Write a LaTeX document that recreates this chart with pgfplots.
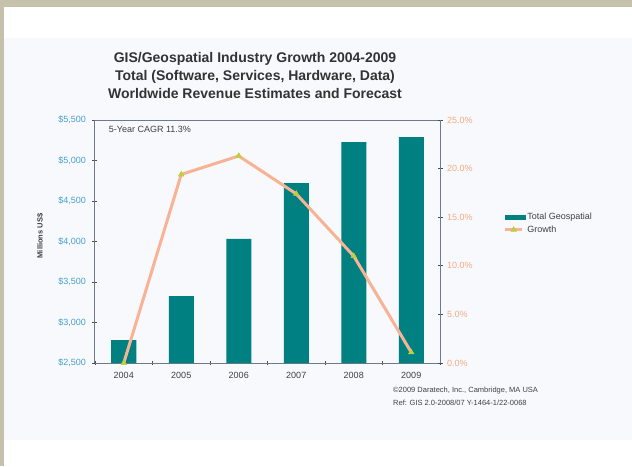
\documentclass[border=0pt]{standalone}
\usepackage{pgfplots}
\pgfplotsset{compat=1.18}
\usepackage{fontspec}
\setmainfont{Liberation Sans}
\definecolor{beige}{RGB}{197,193,170}
\definecolor{panel}{RGB}{248,249,253}
\definecolor{barteal}{RGB}{0,128,128}
\definecolor{salmon}{RGB}{248,178,148}
\definecolor{markyel}{RGB}{190,206,60}
\definecolor{ticklblue}{RGB}{70,160,210}
\definecolor{tickorange}{RGB}{245,170,130}
\definecolor{axgray}{RGB}{110,122,138}
\begin{document}
\begin{tikzpicture}
\useasboundingbox (0,0) rectangle (632pt,-466pt);
\fill[beige] (0,0) rectangle (632pt,-466pt);
\fill[white] (4pt,-7pt) rectangle (632pt,-466pt);
\fill[panel] (4pt,-38pt) rectangle (632pt,-440pt);
\node[align=center,font=\bfseries\fontsize{14}{18}\selectfont,text=black!80] at (255pt,-75pt)
 {GIS/Geospatial Industry Growth 2004-2009\\Total (Software, Services, Hardware, Data)\\Worldwide Revenue Estimates and Forecast};
\node[rotate=90,font=\bfseries\fontsize{7.5}{9}\selectfont,text=black!75] at (40pt,-236pt) {Millions US\$};
\node[anchor=north west,align=left,font=\fontsize{7.5}{13}\selectfont,text=black!75,inner sep=0pt] at (393pt,-387pt)
 {\textcopyright2009 Daratech, Inc., Cambridge, MA USA\\Ref: GIS 2.0-2008/07 Y-1464-1/22-0068};
\begin{axis}[
  at={(95pt,-363pt)}, anchor=south west, scale only axis,
  width=345pt, height=243pt,
  xmin=-0.5, xmax=5.5, ymin=2500, ymax=5500,
  xtick={0,...,5}, xticklabels={2004,2005,2006,2007,2008,2009},
  minor xtick={-0.5,0.5,...,5.5},
  major x tick style={draw=none},
  minor tick length=4pt,
  ytick={2500,3000,...,5500},
  yticklabel={\$\pgfmathprintnumber{\tick}},
  /pgf/number format/1000 sep={,},
  /pgf/number format/assume math mode=true,
  yticklabel style={font=\fontsize{9}{10}\selectfont,text=ticklblue,xshift=-3pt},
  xticklabel style={font=\fontsize{9}{10}\selectfont,text=black!75,yshift=-3pt},
  axis line style={axgray,line width=1pt},
  tick style={black!70,line width=0.8pt},
  tick align=center, major tick length=5pt,
  axis y line*=left, axis x line*=bottom,
  clip=false,
]
\addplot[ybar, bar width=25pt, fill=barteal, draw=none] coordinates {
 (0,2784) (1,3327) (2,4031) (3,4722) (4,5228) (5,5290)};
\node[anchor=west,font=\fontsize{9}{10}\selectfont,text=black!75] at (rel axis cs:0.03,0.963) {5-Year CAGR 11.3\%};
\draw[axgray,line width=1pt] (rel axis cs:0,1) -- (rel axis cs:1,1);
\end{axis}
\begin{axis}[
  at={(95pt,-363pt)}, anchor=south west, scale only axis,
  width=345pt, height=243pt,
  xmin=-0.5, xmax=5.5, ymin=0, ymax=25,
  axis x line=none, axis y line*=right,
  ytick={0,5,...,25},
  yticklabel={\pgfmathprintnumber[fixed,fixed zerofill,precision=1]{\tick}\%},
  /pgf/number format/assume math mode=true,
  yticklabel style={font=\fontsize{9}{10}\selectfont,text=tickorange,xshift=1pt},
  axis line style={axgray,line width=1pt},
  tick style={black!70,line width=0.8pt},
  tick align=center, major tick length=5pt,
  legend style={at={(1.175,0.575)},anchor=west,draw=none,fill=none,
    font=\fontsize{9}{10}\selectfont,text=black!75,row sep=1pt},
  legend cell align=left,
  clip=false,
]
\addlegendimage{legend image code/.code={\fill[barteal] (0pt,-2pt) rectangle (20pt,2pt);}}
\addlegendentry{Total Geospatial}
\addplot[salmon, line width=3pt, mark=triangle*, mark size=3.2pt,
  mark options={fill=markyel,draw=markyel,line width=0.5pt}] coordinates {
 (0,0) (1,19.4) (2,21.3) (3,17.4) (4,11.0) (5,1.1)};
\addlegendentry{Growth}
\end{axis}
\end{tikzpicture}
\end{document}
